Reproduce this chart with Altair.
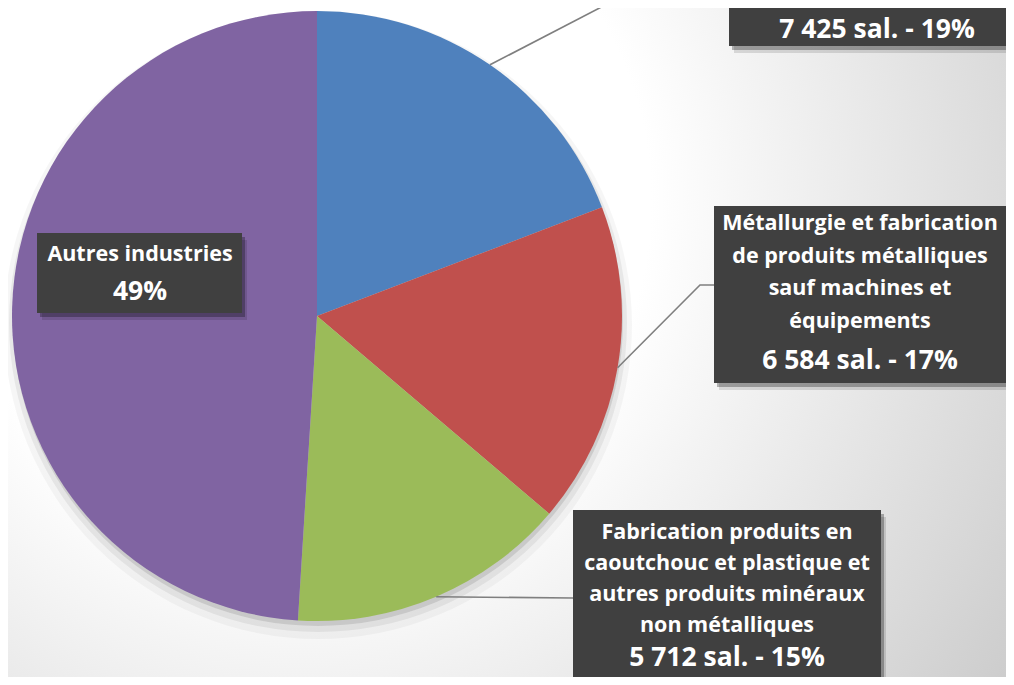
import math
import altair as alt
import pandas as pd

# ---- data ----
categories = [
    "Fabrication de matériels de transport",
    "Métallurgie et fabrication de produits métalliques sauf machines et équipements",
    "Fabrication produits en caoutchouc et plastique et autres produits minéraux non métalliques",
    "Autres industries",
]
salaries = [7425, 6584, 5712, 18950]
percent_labels = ["19%", "17%", "15%", "49%"]
value_labels = ["7 425 sal. - 19%", "6 584 sal. - 17%", "5 712 sal. - 15%", "49%"]
colors = ["#4F81BD", "#C0504D", "#9BBB59", "#8064A2"]

# label text lines (category lines, then value line)
label_lines = [
    [],
    ["Métallurgie et fabrication", "de produits métalliques", "sauf machines et", "équipements"],
    ["Fabrication produits en", "caoutchouc et plastique et", "autres produits minéraux", "non métalliques"],
    ["Autres industries"],
]

# ---- layout (chart pixel coordinates) ----
W, H = 998, 669
OFF = 8  # page margin
CX, CY, R = 317 - OFF, 316 - OFF, 305

# box rectangles (page coords): x1, y1, x2, y2
boxes_page = [
    (729, -30, 1020, 46),
    (714, 206, 1006, 383),
    (573, 510, 881, 700),
    (37, 233, 242, 313),
]
# text centre x, first line y, line step, value line y (page coords)
text_layout = [
    (877, None, 32, 30),
    (860, 224, 32.5, 361),
    (727, 533, 31, 658),
    (140, 255, 32, 292),
]
# leader line bends / ends (page coords)
leader_ends = [
    [(640, -13)],
    [(700, 285), (714, 285)],
    [(573, 598)],
]

pie_df = pd.DataFrame({
    "category": categories,
    "salaries": salaries,
    "order": list(range(len(categories))),
    "pct": percent_labels,
})

# leader line start points at slice mid-angle on the rim
total = sum(salaries)
cum = 0
leader_rows = []
for i, v in enumerate(salaries[:3]):
    mid = (cum + v / 2) / total * 2 * math.pi
    cum += v
    sx = CX + R * math.sin(mid)
    sy = CY - R * math.cos(mid)
    pts = [(sx, sy)] + [(x - OFF, y - OFF) for x, y in leader_ends[i]]
    for j, (x, y) in enumerate(pts):
        leader_rows.append({"lid": i, "k": j, "x": x, "y": y})
leader_df = pd.DataFrame(leader_rows)

box_rows = []
for i, (x1, y1, x2, y2) in enumerate(boxes_page):
    box_rows.append({"bid": i, "x": x1 - OFF, "y": y1 - OFF, "x2": x2 - OFF, "y2": y2 - OFF})
box_df = pd.DataFrame(box_rows)

shadow_rows = []
for r in box_rows:
    for dx, dy, op in [(3, 4, 0.28), (5, 7, 0.12)]:
        shadow_rows.append({"x": r["x"] + dx, "y": r["y"] + dy, "x2": r["x2"] + dx, "y2": r["y2"] + dy, "op": op})
shadow_df = pd.DataFrame(shadow_rows)

text_rows = []
for i, lines in enumerate(label_lines):
    tx, ty0, step, vy = text_layout[i]
    for j, ln in enumerate(lines):
        text_rows.append({"t": ln, "x": tx - OFF, "y": ty0 + j * step - OFF, "size": 21.5})
    text_rows.append({"t": value_labels[i], "x": tx - OFF, "y": vy - OFF, "size": 26.5})
text_df = pd.DataFrame(text_rows)

one = pd.DataFrame({"a": [0]})

# ---- layers ----
bg = alt.Chart(one).mark_rect(
    fill=alt.RadialGradient(
        gradient="radial",
        x1=0.293, y1=0.357, r1=0,
        x2=0.293, y2=0.357, r2=0.9,
        stops=[
            alt.GradientStop(color="#ffffff", offset=0),
            alt.GradientStop(color="#ffffff", offset=0.39),
            alt.GradientStop(color="#c8c8c8", offset=1),
        ],
    )
).encode(
    x=alt.value(-1), x2=alt.value(999), y=alt.value(-165), y2=alt.value(835)
)

pie_shadows = []
for rad, dy, op in [(305, 5, 0.10), (309, 7, 0.06), (314, 9, 0.035)]:
    pie_shadows.append(
        alt.Chart(one).mark_arc(
            theta=0, theta2=2 * math.pi, radius=rad, fill="#000000", opacity=op
        ).encode(x=alt.value(CX + 1), y=alt.value(CY + dy))
    )

pie = alt.Chart(pie_df).mark_arc(outerRadius=R).encode(
    theta=alt.Theta("salaries:Q", stack=True),
    order=alt.Order("order:Q"),
    color=alt.Color("category:N", scale=alt.Scale(domain=categories, range=colors), legend=None),
    x=alt.value(CX),
    y=alt.value(CY),
)

leaders = alt.Chart(leader_df).mark_line(color="#7f7f7f", strokeWidth=1.6).encode(
    x=alt.X("x:Q", scale=None),
    y=alt.Y("y:Q", scale=None),
    detail="lid:N",
    order="k:Q",
)

shadows = alt.Chart(shadow_df).mark_rect(color="#000000").encode(
    x=alt.X("x:Q", scale=None), x2="x2:Q",
    y=alt.Y("y:Q", scale=None), y2="y2:Q",
    opacity=alt.Opacity("op:Q", scale=None),
)

boxes = alt.Chart(box_df).mark_rect(color="#404040").encode(
    x=alt.X("x:Q", scale=None), x2="x2:Q",
    y=alt.Y("y:Q", scale=None), y2="y2:Q",
)

texts = alt.Chart(text_df).mark_text(
    font="Open Sans", fontWeight="bold", color="#ffffff", align="center", baseline="middle"
).encode(
    x=alt.X("x:Q", scale=None),
    y=alt.Y("y:Q", scale=None),
    text="t:N",
    size=alt.Size("size:Q", scale=None),
)

chart = alt.layer(bg, *pie_shadows, pie, leaders, shadows, boxes, texts).properties(
    width=W, height=H, padding=0, autosize=alt.AutoSizeParams(type="none")
).configure_view(stroke=None)

chart.save("out.html", embed_options={"renderer": "svg", "actions": False})
